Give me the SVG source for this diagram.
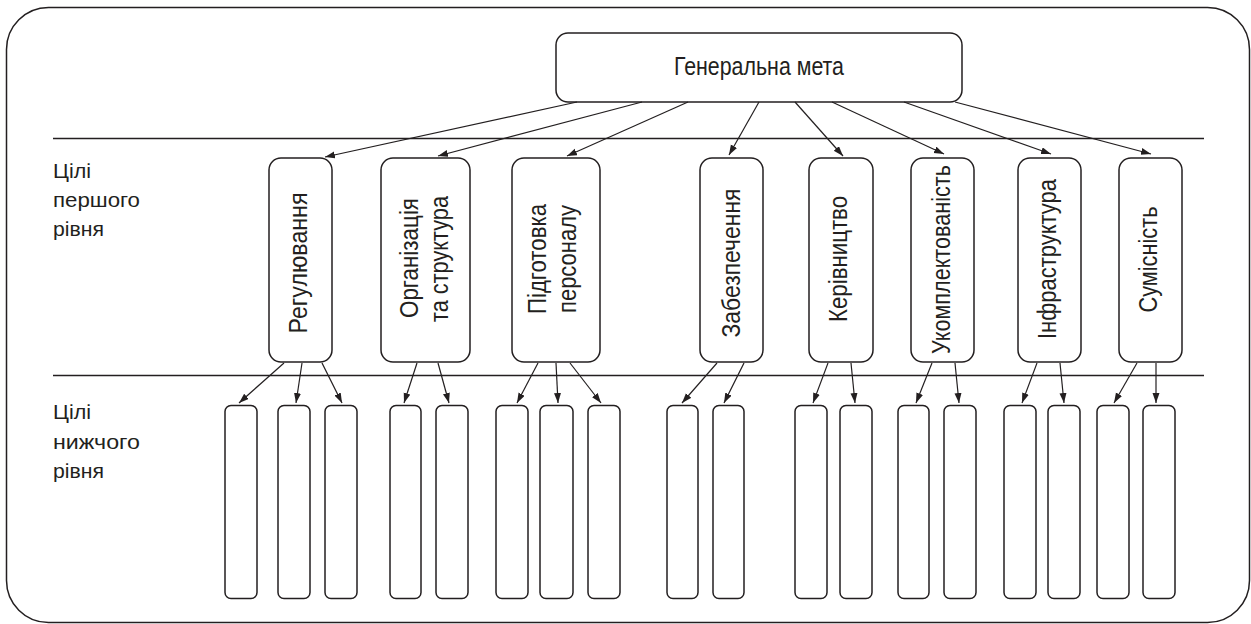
<svg xmlns="http://www.w3.org/2000/svg" width="1251" height="624" viewBox="0 0 1251 624">
<defs>
<marker id="ah" markerUnits="userSpaceOnUse" markerWidth="11" markerHeight="8" refX="10" refY="3.5" orient="auto">
<path d="M0,0 L10,3.5 L0,7 z" fill="#231f20"/>
</marker>
<style>
.frame{fill:#fff;stroke:#231f20;stroke-width:1.5}
.box{fill:#fff;stroke:#231f20;stroke-width:1.5}
.sep{stroke:#231f20;stroke-width:1.3;fill:none}
.con line{stroke:#231f20;stroke-width:1.2;marker-end:url(#ah)}
text{font-family:"Liberation Sans","Arial",sans-serif;fill:#231f20}
.t{font-size:25px;text-anchor:middle}
.lab{font-size:21px}
</style>
</defs>
<rect class="frame" x="6.5" y="7.5" width="1243" height="615" rx="42" ry="42"/>
<line class="sep" x1="53" y1="138.5" x2="1204" y2="138.5"/>
<line class="sep" x1="53" y1="375.5" x2="1204" y2="375.5"/>

<g id="label-level1">
<text class="lab" x="53" y="177.5" textLength="38" lengthAdjust="spacingAndGlyphs">Цілі</text>
<text class="lab" x="53" y="206.5" textLength="87" lengthAdjust="spacingAndGlyphs">першого</text>
<text class="lab" x="53" y="235.5" textLength="51" lengthAdjust="spacingAndGlyphs">рівня</text>
</g>
<g id="label-level2">
<text class="lab" x="53" y="419" textLength="38" lengthAdjust="spacingAndGlyphs">Цілі</text>
<text class="lab" x="53" y="448.5" textLength="87" lengthAdjust="spacingAndGlyphs">нижчого</text>
<text class="lab" x="53" y="478" textLength="51" lengthAdjust="spacingAndGlyphs">рівня</text>
</g>

<g id="goal">
<rect class="box" x="556" y="33" width="406" height="69" rx="12"/>
<text class="t" x="759" y="75" textLength="170" lengthAdjust="spacingAndGlyphs">Генеральна мета</text>
</g>

<g id="n1">
<rect class="box" x="269" y="158" width="63" height="204" rx="12"/>
<text class="t" transform="translate(306.5,263) rotate(-90)" textLength="141" lengthAdjust="spacingAndGlyphs">Регулювання</text>
</g>
<g id="n2">
<rect class="box" x="381" y="158" width="89" height="204" rx="12"/>
<text class="t" transform="translate(418,258) rotate(-90)" textLength="120" lengthAdjust="spacingAndGlyphs">Організація</text>
<text class="t" transform="translate(448,259) rotate(-90)" textLength="126" lengthAdjust="spacingAndGlyphs">та структура</text>
</g>
<g id="n3">
<rect class="box" x="512" y="158" width="88" height="204" rx="12"/>
<text class="t" transform="translate(546,259) rotate(-90)" textLength="110" lengthAdjust="spacingAndGlyphs">Підготовка</text>
<text class="t" transform="translate(576,259) rotate(-90)" textLength="108" lengthAdjust="spacingAndGlyphs">персоналу</text>
</g>
<g id="n4">
<rect class="box" x="700" y="158" width="63" height="204" rx="12"/>
<text class="t" transform="translate(740,263) rotate(-90)" textLength="149" lengthAdjust="spacingAndGlyphs">Забезпечення</text>
</g>
<g id="n5">
<rect class="box" x="809" y="158" width="64" height="204" rx="12"/>
<text class="t" transform="translate(846.5,259) rotate(-90)" textLength="126" lengthAdjust="spacingAndGlyphs">Керівництво</text>
</g>
<g id="n6">
<rect class="box" x="911" y="158" width="63" height="204" rx="12"/>
<text class="t" transform="translate(950,259.5) rotate(-90)" textLength="189" lengthAdjust="spacingAndGlyphs">Укомплектованість</text>
</g>
<g id="n7">
<rect class="box" x="1018" y="158" width="63" height="204" rx="12"/>
<text class="t" transform="translate(1055.5,259) rotate(-90)" textLength="160" lengthAdjust="spacingAndGlyphs">Інфраструктура</text>
</g>
<g id="n8">
<rect class="box" x="1119" y="158" width="63" height="204" rx="12"/>
<text class="t" transform="translate(1157,259.5) rotate(-90)" textLength="106" lengthAdjust="spacingAndGlyphs">Сумісність</text>
</g>

<g id="lower">
<rect class="box" x="225" y="405.5" width="32" height="193" rx="6"/>
<rect class="box" x="278" y="405.5" width="32" height="193" rx="6"/>
<rect class="box" x="325" y="405.5" width="32" height="193" rx="6"/>
<rect class="box" x="390" y="405.5" width="31" height="193" rx="6"/>
<rect class="box" x="436" y="405.5" width="32" height="193" rx="6"/>
<rect class="box" x="496" y="405.5" width="32" height="193" rx="6"/>
<rect class="box" x="540" y="405.5" width="33" height="193" rx="6"/>
<rect class="box" x="588" y="405.5" width="32" height="193" rx="6"/>
<rect class="box" x="667" y="405.5" width="31" height="193" rx="6"/>
<rect class="box" x="713" y="405.5" width="31" height="193" rx="6"/>
<rect class="box" x="795" y="405.5" width="32" height="193" rx="6"/>
<rect class="box" x="840" y="405.5" width="32" height="193" rx="6"/>
<rect class="box" x="898" y="405.5" width="31" height="193" rx="6"/>
<rect class="box" x="944" y="405.5" width="32" height="193" rx="6"/>
<rect class="box" x="1004" y="405.5" width="32" height="193" rx="6"/>
<rect class="box" x="1048" y="405.5" width="32" height="193" rx="6"/>
<rect class="box" x="1097" y="405.5" width="32" height="193" rx="6"/>
<rect class="box" x="1143" y="405.5" width="32" height="193" rx="6"/>
</g>

<g id="connectors" class="con">
<line x1="577" y1="102" x2="325" y2="157"/>
<line x1="642" y1="102" x2="438" y2="156"/>
<line x1="688" y1="102" x2="567" y2="156"/>
<line x1="759" y1="102" x2="729" y2="155"/>
<line x1="795" y1="102" x2="843" y2="156"/>
<line x1="832" y1="102" x2="944" y2="154"/>
<line x1="904" y1="102" x2="1051" y2="154"/>
<line x1="955" y1="102" x2="1151" y2="154"/>

<line x1="284" y1="363" x2="239" y2="403"/>
<line x1="302" y1="363" x2="296" y2="403"/>
<line x1="322" y1="363" x2="342" y2="403"/>
<line x1="417" y1="363" x2="404" y2="403"/>
<line x1="438" y1="363" x2="449" y2="403"/>
<line x1="538" y1="363" x2="517" y2="403"/>
<line x1="556" y1="363" x2="558" y2="403"/>
<line x1="570" y1="363" x2="601" y2="403"/>
<line x1="717" y1="363" x2="682" y2="403"/>
<line x1="744" y1="363" x2="724" y2="403"/>
<line x1="828" y1="363" x2="813" y2="403"/>
<line x1="851" y1="363" x2="855" y2="403"/>
<line x1="932" y1="363" x2="916" y2="403"/>
<line x1="955" y1="363" x2="959" y2="403"/>
<line x1="1037" y1="363" x2="1022" y2="403"/>
<line x1="1060" y1="363" x2="1064" y2="403"/>
<line x1="1137" y1="363" x2="1114" y2="403"/>
<line x1="1156" y1="363" x2="1156" y2="403"/>
</g>
</svg>
